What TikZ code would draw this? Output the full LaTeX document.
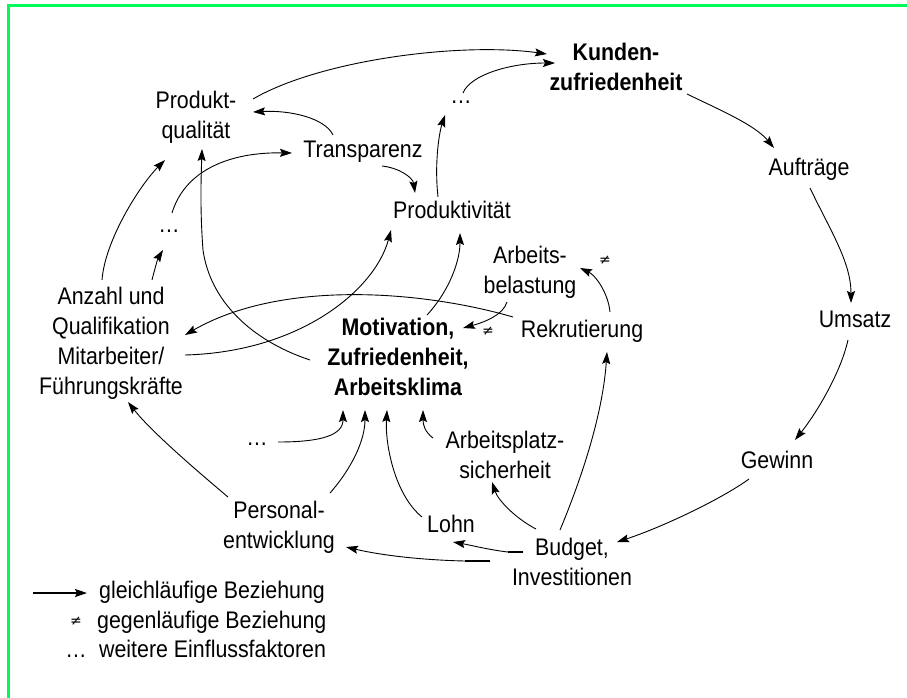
\documentclass[tikz,border=0pt]{standalone}
\usepackage{fontspec}
\setmainfont{Liberation Sans}[FakeStretch=0.89]
\newfontfamily\symfont{DejaVu Sans}
\usetikzlibrary{arrows.meta}
\definecolor{framegreen}{RGB}{0,250,90}
\tikzset{
  txt/.style={inner sep=0pt, align=center, font=\fontsize{24}{30}\selectfont},
  btxt/.style={txt, font=\fontsize{24}{30}\selectfont\bfseries},
  ltxt/.style={inner sep=0pt, anchor=west, font=\fontsize{24}{30}\selectfont},
  neq/.style={inner sep=0pt, font=\symfont\fontsize{14}{16}\selectfont},
  conn/.style={line width=0.9pt, -{Stealth[length=12pt,width=8pt,inset=2pt]}},
  plain/.style={line width=0.9pt},
  thickseg/.style={line width=2pt},
}
\begin{document}
\begin{tikzpicture}[x=1pt,y=-1pt]
\useasboundingbox (0,0) rectangle (907,697);
\draw[framegreen, line width=3pt] (8.5,5.5) rectangle (1000,800);

% nodes
\node[btxt] (kz) at (616,69) {\strut Kunden-\\zufriedenheit\strut};
\node[txt] (pq) at (196,117) {\strut Produkt-\\qualität\strut};
\node[txt] (d1) at (461,97) {\strut …};
\node[txt] (tr) at (363,151) {\strut Transparenz};
\node[txt] (au) at (809,169) {\strut Aufträge};
\node[txt] (pv) at (452,212) {\strut Produktivität};
\node[txt] (d2) at (169,226) {\strut …};
\node[txt] (an) at (111,343) {\strut Anzahl und\\Qualifikation\\Mitarbeiter/\\Führungskräfte\strut};
\node[btxt] (mo) at (398,359) {\strut Motivation,\\Zufriedenheit,\\Arbeitsklima\strut};
\node[txt] (ab) at (530,272) {\strut Arbeits-\\belastung\strut};
\node[txt] (rk) at (582,331) {\strut Rekrutierung};
\node[txt] (um) at (855,321) {\strut Umsatz};
\node[txt] (d3) at (257,439) {\strut …};
\node[txt] (as) at (505,457) {\strut Arbeitsplatz-\\sicherheit\strut};
\node[txt] (gw) at (777,462) {\strut Gewinn};
\node[txt] (pe) at (279,527) {\strut Personal-\\entwicklung\strut};
\node[txt] (lo) at (451,526) {\strut Lohn};
\node[txt] (bu) at (572,564) {\strut Budget,\\Investitionen\strut};

\node[neq] (ne1) at (605,260) {≠};
\node[neq] (ne2) at (488,331) {≠};

% connectors
\draw[conn] ([shift={(57,-18)}]pq.center) .. controls (320,60) and (460,42) .. ([shift={(-69,-15)}]kz.center);
\draw[conn] ([shift={(2,-4)}]d1.center) .. controls (470,75) and (510,63) .. ([shift={(-61,-6)}]kz.center);
\draw[conn] ([shift={(71,25)}]kz.center) .. controls (720,110) and (755,125) .. ([shift={(-35,-21)}]au.center);
\draw[conn] ([shift={(-30,-16)}]tr.center) .. controls (325,118) and (290,110) .. ([shift={(57,-5)}]pq.center);
\draw[conn] ([shift={(3,-13)}]d2.center) .. controls (185,170) and (230,152) .. ([shift={(-71,2)}]tr.center);
\draw[conn] ([shift={(19,15)}]tr.center) .. controls (400,168) and (413,178) .. ([shift={(-37,-19)}]pv.center);
\draw[conn] ([shift={(-14,-15)}]pv.center) .. controls (434,160) and (440,130) .. ([shift={(-16,18)}]d1.center);
\draw[conn] ([shift={(-88,1)}]mo.center) .. controls (250,340) and (210,300) .. (203,250) .. controls (200,210) and (201,180) .. ([shift={(6,32)}]pq.center);
\draw[conn] ([shift={(-9,-63)}]an.center) .. controls (105,240) and (140,185) .. ([shift={(-31,43)}]pq.center);
\draw[conn] ([shift={(41,-63)}]an.center) .. controls (155,268) and (158,258) .. ([shift={(-6,24)}]d2.center);
\draw[conn] ([shift={(-69,-14)}]rk.center) .. controls (420,290) and (280,280) .. ([shift={(74,-8)}]an.center);
\draw[conn] ([shift={(74,12)}]an.center) .. controls (300,352) and (375,290) .. ([shift={(-61,18)}]pv.center);
\draw[conn] ([shift={(29,-44)}]mo.center) .. controls (450,290) and (460,260) .. ([shift={(8,21)}]pv.center);
\draw[conn] ([shift={(-23,30)}]ab.center) .. controls (503,315) and (485,322) .. ([shift={(65,-31)}]mo.center);
\draw[conn] ([shift={(28,-19)}]rk.center) .. controls (608,292) and (595,275) .. ([shift={(50,-4)}]ab.center);
\draw[conn] ([shift={(-12,-34)}]bu.center) .. controls (585,470) and (603,410) .. ([shift={(25,21)}]rk.center);
\draw[conn] ([shift={(-36,-35)}]bu.center) .. controls (515,518) and (498,500) .. ([shift={(-13,25)}]as.center);
\draw[conn] ([shift={(-49,-12)}]bu.center) -- (508,552) .. controls (490,550) and (470,545) .. ([shift={(2,16)}]lo.center);
\draw[thickseg] ([shift={(-49,-12)}]bu.center) -- ++(-15,0);
\draw[conn] ([shift={(-82,-3)}]bu.center) -- (465,561) .. controls (420,560) and (380,555) .. ([shift={(67,20)}]pe.center);
\draw[thickseg] ([shift={(-82,-3)}]bu.center) -- ++(-25,0);
\draw[conn] ([shift={(-28,17)}]gw.center) .. controls (720,500) and (660,528) .. ([shift={(45,-22)}]bu.center);
\draw[conn] ([shift={(1,19)}]au.center) .. controls (830,230) and (851,262) .. ([shift={(-4,-18)}]um.center);
\draw[conn] ([shift={(-7,19)}]um.center) .. controls (840,375) and (815,415) .. ([shift={(18,-22)}]gw.center);
\draw[conn] ([shift={(-51,-30)}]pe.center) .. controls (190,465) and (150,430) .. ([shift={(17,59)}]an.center);
\draw[conn] ([shift={(51,-34)}]pe.center) .. controls (352,468) and (365,440) .. ([shift={(-33,51)}]mo.center);
\draw[conn] ([shift={(-29,-9)}]lo.center) .. controls (395,495) and (385,445) .. ([shift={(-11,51)}]mo.center);
\draw[conn] ([shift={(-72,-19)}]as.center) .. controls (425,432) and (423,425) .. ([shift={(25,51)}]mo.center);
\draw[conn] ([shift={(21,3)}]d3.center) .. controls (322,442) and (343,435) .. ([shift={(-55,51)}]mo.center);

% legend
\node[ltxt] (lg1) at (99,592) {\strut gleichläufige Beziehung};
\node[ltxt] (lg2) at (97,622) {\strut gegenläufige Beziehung};
\node[ltxt] (lg3) at (99,651) {\strut weitere Einflussfaktoren};
\node[neq] (lgn) at (76,621) {≠};
\node[txt] (lgd) at (76,651) {\strut …};
\coordinate (la) at (33,593);
\draw[line width=1.8pt, -{Stealth[length=12pt,width=8pt,inset=2pt]}] (la) -- ([shift={(-12,1)}]lg1.west);
\end{tikzpicture}
\end{document}
